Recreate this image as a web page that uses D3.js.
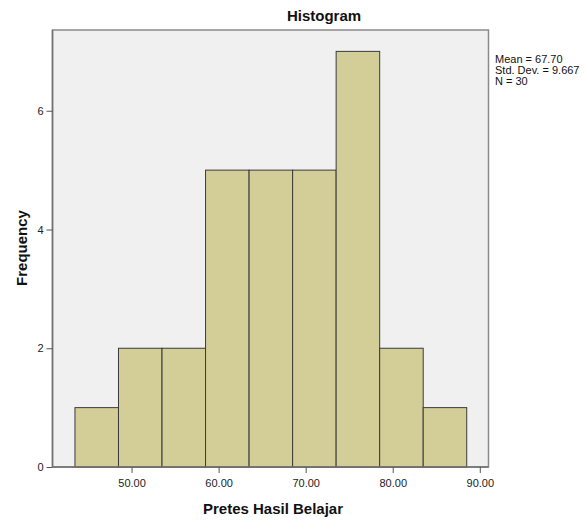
<!DOCTYPE html>
<html><head><meta charset="utf-8">
<script src="https://cdn.jsdelivr.net/npm/d3@7"></script>
<style>body{margin:0;background:#fff;}svg{display:block;font-family:Arial,"Liberation Sans",sans-serif;}</style>
</head><body>
<script>
const binStarts = [43.5, 48.5, 53.5, 58.5, 63.5, 68.5, 73.5, 78.5, 83.5];
const binWidth = 5;
const counts = [1, 2, 2, 5, 5, 5, 7, 2, 1];
const xTicks = [50, 60, 70, 80, 90];
const yTicks = [0, 2, 4, 6];
const statsLines = ["Mean = 67.70", "Std. Dev. = 9.667", "N = 30"];

const W = 585, H = 521;
const L = 52.5, R = 488.5, T = 30, B = 467;
const svg = d3.select("body").append("svg").attr("width", W).attr("height", H);

const xs = d3.scaleLinear().domain([40.92, 91.0]).range([L, R]);
const ys = d3.scaleLinear().domain([0, 7.36]).range([B, T]);

svg.append("rect").attr("x", L).attr("y", T).attr("width", R - L).attr("height", B - T)
  .attr("fill", "#f0f0f0").attr("stroke", "#8a8a8a").attr("stroke-width", 1.5);

svg.append("g").selectAll("rect").data(binStarts).join("rect")
  .attr("x", d => xs(d)).attr("width", d => xs(d + binWidth) - xs(d))
  .attr("y", (d, i) => ys(counts[i])).attr("height", (d, i) => ys(0) - ys(counts[i]))
  .attr("fill", "#d3ce97").attr("stroke", "#3a3a3a").attr("stroke-width", 1);

const xAxis = svg.append("g").attr("transform", `translate(0,${B})`)
  .call(d3.axisBottom(xs).tickValues(xTicks).tickFormat(d3.format(".2f")).tickSize(6).tickSizeOuter(0));
const yAxis = svg.append("g").attr("transform", `translate(${L},0)`)
  .call(d3.axisLeft(ys).tickValues(yTicks).tickFormat(d3.format("d")).tickSize(6).tickSizeOuter(0));
[xAxis, yAxis].forEach(a => {
  a.select(".domain").attr("stroke", "#707070").attr("stroke-width", 1.5);
  a.selectAll(".tick line").attr("stroke", "#555");
  a.selectAll(".tick text").attr("fill", "#222").attr("font-size", 11).attr("font-family", "Arial, 'Liberation Sans', sans-serif");
});
xAxis.selectAll(".tick text").attr("dy", "1.0em");
yAxis.select(".domain").attr("d", `M0,${B}V${T}`);
xAxis.select(".domain").attr("d", `M${L},0H${R}`);

svg.append("text").attr("x", 324).attr("y", 21).attr("text-anchor", "middle")
  .attr("font-size", 15).attr("font-weight", "bold").attr("fill", "#111").text("Histogram");

svg.append("text").attr("x", 273).attr("y", 514).attr("text-anchor", "middle")
  .attr("font-size", 15).attr("font-weight", "bold").attr("fill", "#111").text("Pretes Hasil Belajar");

svg.append("text").attr("transform", "translate(27,248) rotate(-90)").attr("text-anchor", "middle")
  .attr("font-size", 15).attr("font-weight", "bold").attr("fill", "#111").text("Frequency");

svg.append("g").selectAll("text").data(statsLines).join("text")
  .attr("x", 495).attr("y", (d, i) => 63 + i * 11)
  .attr("font-size", 11).attr("fill", "#111").text(d => d);
</script>
</body></html>
